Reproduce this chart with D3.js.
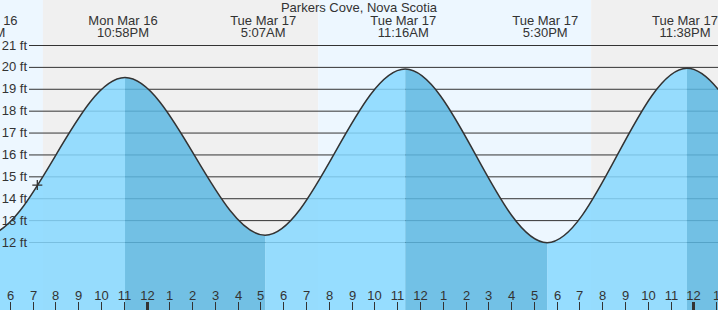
<!DOCTYPE html>
<html>
<head>
<meta charset="utf-8">
<script src="https://cdn.jsdelivr.net/npm/d3@7"></script>
<style>
  body { margin: 0; overflow: hidden; background: #fff; }
  text { font-family: "Liberation Sans", Arial, sans-serif; font-size: 13px; fill: #333; }
</style>
</head>
<body>
<script>
  var title = "Parkers Cove, Nova Scotia";

  // high / low tides (the outer ones lie outside the view, they only shape the curve ends)
  var tideTimes = ["2026-03-16 10:38", "2026-03-16 16:49", "2026-03-16 22:58", "2026-03-17 05:07",
                   "2026-03-17 11:16", "2026-03-17 17:30", "2026-03-17 23:38", "2026-03-18 05:50",
                   "2026-03-18 12:00"];
  var tideHeights = [19.2, 12.3, 19.51, 12.31, 19.9, 11.97, 19.94, 12.2, 19.9];

  // sunset / sunrise / sunset
  var sunTimes = ["2026-03-16 19:27", "2026-03-17 07:32", "2026-03-17 19:31"];

  var viewTimes = ["2026-03-16 17:34", "2026-03-18 01:05"];
  var nowTime = "2026-03-16 19:07", nowHeight = 14.6;
  var feetTicks = [12, 13, 14, 15, 16, 17, 18, 19, 20, 21];

  var width = 718, height = 310;
  var parse = d3.timeParse("%Y-%m-%d %H:%M");

  var tides = tideTimes.map(function(t, i) { return { t: parse(t), h: tideHeights[i] }; });
  var sun = sunTimes.map(parse);
  var view = viewTimes.map(parse);

  var x = d3.scaleTime().domain(view).range([0, width]);
  var y = d3.scaleLinear().domain([12, 21]).range([242, 45]);

  var svg = d3.select("body").append("svg")
    .attr("width", width)
    .attr("height", height);

  // day / night background
  var edges = [view[0]].concat(sun, [view[1]]);
  svg.append("g").selectAll("rect")
    .data(d3.pairs(edges))
    .enter().append("rect")
    .attr("x", function(d) { return x(d[0]); })
    .attr("width", function(d) { return x(d[1]) - x(d[0]); })
    .attr("y", 0)
    .attr("height", height)
    .attr("fill", function(d, i) { return i % 2 ? "#f0f0f0" : "#edf7ff"; });

  // grid lines
  svg.append("g").selectAll("line")
    .data(feetTicks)
    .enter().append("line")
    .attr("x1", 29).attr("x2", width)
    .attr("y1", function(d) { return y(d) + 0.5; })
    .attr("y2", function(d) { return y(d) + 0.5; })
    .attr("stroke", "#333")
    .attr("stroke-width", 1);

  // water
  var water = svg.append("g").attr("transform", "translate(2,0)");

  var area = d3.area()
    .curve(d3.curveMonotoneX)
    .x(function(d) { return x(d.t); })
    .y0(height)
    .y1(function(d) { return y(d.h); });

  var line = d3.line()
    .curve(d3.curveMonotoneX)
    .x(function(d) { return x(d.t); })
    .y(function(d) { return y(d.h); });

  water.append("clipPath").attr("id", "waterclip")
    .append("path").attr("d", area(tides));

  // rising water light, falling water darker
  water.append("g").attr("clip-path", "url(#waterclip)")
    .selectAll("rect")
    .data(d3.pairs(tides))
    .enter().append("rect")
    .attr("x", function(d) { return x(d[0].t); })
    .attr("width", function(d) { return x(d[1].t) - x(d[0].t); })
    .attr("y", 0)
    .attr("height", height)
    .attr("fill", function(d) { return d[1].h > d[0].h ? "#86d8ff" : "#5cb7e2"; })
    .attr("fill-opacity", 0.85);

  water.append("path")
    .attr("d", line(tides))
    .attr("fill", "none")
    .attr("stroke", "#333")
    .attr("stroke-width", 1.5);

  // current time marker
  var nx = x(parse(nowTime)), ny = y(nowHeight);
  water.append("path")
    .attr("d", "M" + (nx - 5) + "," + ny + "h10M" + nx + "," + (ny - 5) + "v10")
    .attr("stroke", "#333")
    .attr("stroke-width", 1.3);

  // feet labels
  svg.append("g").selectAll("text")
    .data(feetTicks)
    .enter().append("text")
    .attr("x", 27)
    .attr("y", function(d) { return y(d); })
    .attr("dy", "0.35em")
    .attr("text-anchor", "end")
    .text(function(d) { return d + " ft"; });

  // hour axis
  var hours = d3.timeHours(view[0], view[1]);
  var hourG = svg.append("g").selectAll("g")
    .data(hours)
    .enter().append("g")
    .attr("transform", function(d) { return "translate(" + Math.round(x(d)) + ",0)"; });

  hourG.append("line")
    .attr("x1", 0.5).attr("x2", 0.5)
    .attr("y1", 302).attr("y2", height)
    .attr("stroke", "#333")
    .attr("stroke-width", function(d) { return d.getHours() === 0 ? 3 : 1; });

  hourG.append("text")
    .attr("x", 0.5)
    .attr("y", 300)
    .attr("text-anchor", "middle")
    .text(d3.timeFormat("%-I"));

  // high / low labels
  var fmtDay = d3.timeFormat("%a %b %-d"), fmtTime = d3.timeFormat("%-I:%M%p");
  var lab = svg.append("g").selectAll("text")
    .data(tides.filter(function(d) { return x(d.t) > -60 && x(d.t) < width + 60; }))
    .enter().append("text")
    .attr("text-anchor", "middle");
  lab.append("tspan")
    .attr("x", function(d) { return x(d.t); })
    .attr("y", 24.5)
    .text(function(d) { return fmtDay(d.t); });
  lab.append("tspan")
    .attr("x", function(d) { return x(d.t); })
    .attr("y", 36.5)
    .text(function(d) { return fmtTime(d.t); });

  svg.append("text")
    .attr("x", 359)
    .attr("y", 12)
    .attr("text-anchor", "middle")
    .text(title);
</script>
</body>
</html>
